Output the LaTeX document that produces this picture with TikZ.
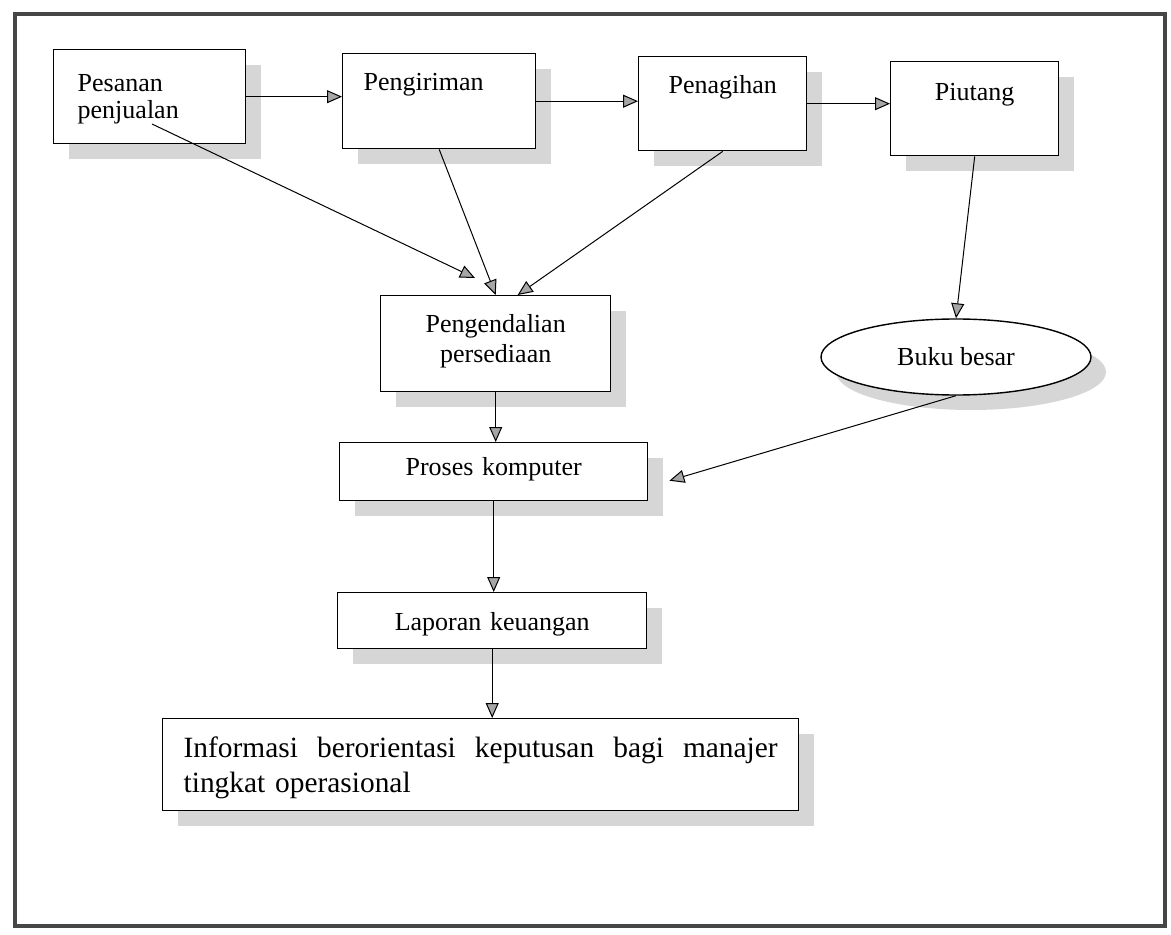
\documentclass[tikz,border=0pt]{standalone}
\usepackage{fontspec}
\setmainfont{Liberation Serif}
\usetikzlibrary{arrows.meta,shadows,shapes.geometric}

\begin{document}
\begin{tikzpicture}[x=0.5pt, y=-0.5pt,
  kotak/.style={draw, line width=0.7pt, fill=white, inner sep=0pt, anchor=north west,
    font=\fontsize{13}{15}\selectfont,
    drop shadow={shadow xshift=7.5pt, shadow yshift=-7.5pt, fill=gray!32, opacity=1}},
  panah/.style={line width=0.5pt, -{Triangle[length=7.5pt, width=6.5pt, fill=gray!70]}}]

\useasboundingbox (0,0) rectangle (1171,935);
\draw [line width=1.6pt, gray!55!black] (15,14) rectangle (1165,926);

% Top row
\node [kotak, text width=72pt, inner xsep=12pt, align=left, text height=21pt, text depth=26pt,
  font=\fontsize{13}{13.5}\selectfont] (pesanan) at (53,49) {Pesanan\\penjualan};
\node [kotak, text width=75.5pt, inner xsep=10.5pt, align=left, text height=18.5pt, text depth=29pt]
  (pengiriman) at (342,53) {Pengiriman};
\node [kotak, text width=84pt, align=center, text height=18.5pt, text depth=28.5pt]
  (penagihan) at (638,56) {Penagihan};
\node [kotak, text width=84pt, align=center, text height=19.5pt, text depth=27.5pt]
  (piutang) at (890,61) {Piutang};

% Middle
\node [kotak, text width=115pt, align=center, text height=18.5pt, text depth=29.5pt]
  (pengendalian) at (380,295) {Pengendalian\\persediaan};
\node [kotak, ellipse, anchor=center, minimum width=135pt, minimum height=38pt]
  (buku) at (956,357) {Buku besar};
\node [kotak, text width=154pt, align=center, text height=16.5pt, text depth=12.5pt]
  (proses) at (339,442) {Proses komputer};

% Bottom
\node [kotak, text width=154.5pt, align=center, text height=19pt, text depth=9pt]
  (laporan) at (337,592) {Laporan keuangan};
\node [kotak, text width=297pt, inner xsep=10.5pt, align=left, text height=19.5pt, text depth=26.5pt,
  font=\fontsize{14.7}{17.5}\selectfont] (informasi) at (162,718)
  {Informasi\hfill berorientasi\hfill keputusan\hfill bagi\hfill manajer\\tingkat operasional};

% -------- Arrows -----------
\draw [panah] (pesanan.east) -- (pesanan.east -| pengiriman.west);
\draw [panah] (pengiriman.east) -- (pengiriman.east -| penagihan.west);
\draw [panah] (penagihan.east) -- (penagihan.east -| piutang.west);

\coordinate (pj) at ([shift={(99,75)}]pesanan.north west);
\coordinate (pk) at ([shift={(95,-17)}]pengendalian.north west);
\draw [panah] (pj) -- (pk);
\draw [panah] (pengiriman.south) -- (pengendalian.north);
\draw [panah] (penagihan.south) -- ([shift={(22,0)}]pengendalian.north);
\draw [panah] (piutang.south) -- (buku.north);

\draw [panah] (pengendalian.south) -- (pengendalian.south |- proses.north);
\draw [panah] (buku.south) -- ([shift={(21,9)}]proses.east);
\draw [panah] (proses.south) -- (proses.south |- laporan.north);
\draw [panah] (laporan.south) -- (laporan.south |- informasi.north);
\end{tikzpicture}
\end{document}
